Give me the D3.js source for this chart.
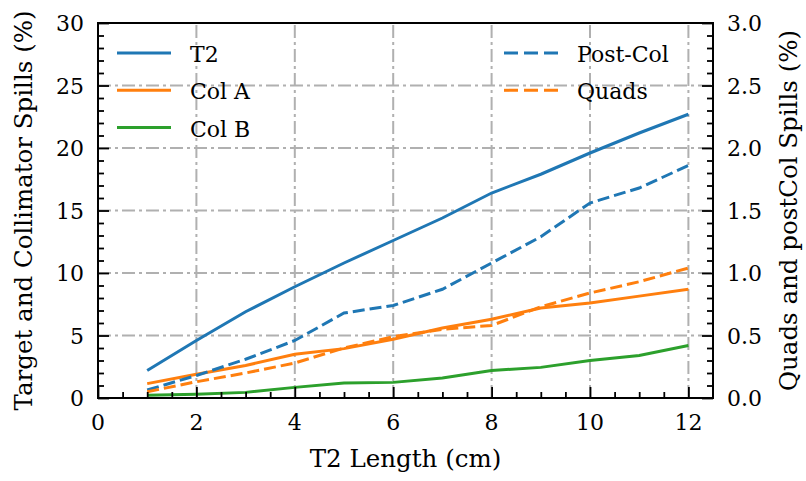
<!DOCTYPE html>
<html>
<head>
<meta charset="utf-8">
<script src="https://cdn.jsdelivr.net/npm/d3@7"></script>
<style>
  html, body { margin: 0; padding: 0; background: #fff; }
  svg { display: block; font-family: 'DejaVu Serif', serif; }
</style>
</head>
<body>
<svg id="chart"></svg>
<script>
const lengths = [1, 2, 3, 4, 5, 6, 7, 8, 9, 10, 11, 12];
// left axis (%)
const t2 = [2.2, 4.6, 6.9, 8.9, 10.8, 12.6, 14.4, 16.4, 17.9, 19.6, 21.2, 22.7];
const colA = [1.15, 1.9, 2.6, 3.5, 3.95, 4.7, 5.6, 6.3, 7.2, 7.6, 8.15, 8.7];
const colB = [0.22, 0.3, 0.45, 0.85, 1.2, 1.25, 1.6, 2.2, 2.45, 3.0, 3.4, 4.2];
// right axis (%)
const postCol = [0.064, 0.18, 0.31, 0.46, 0.68, 0.74, 0.87, 1.08, 1.29, 1.56, 1.68, 1.86];
const quads = [0.05, 0.13, 0.2, 0.28, 0.4, 0.49, 0.55, 0.58, 0.73, 0.84, 0.93, 1.04];

const xTicks = [0, 2, 4, 6, 8, 10, 12];
const leftTicks = [0, 5, 10, 15, 20, 25, 30];
const rightTicks = [0, 0.5, 1.0, 1.5, 2.0, 2.5, 3.0];

const width = 806, height = 481;
const m = { left: 98, right: 713, top: 23, bottom: 398 };
const blue = '#1f77b4', orange = '#ff7f0e', green = '#2ca02c';

const svg = d3.select('#chart').attr('width', width).attr('height', height);

const x = d3.scaleLinear().domain([0, 12.5]).range([m.left, m.right]);
const yL = d3.scaleLinear().domain([0, 30]).range([m.bottom, m.top]);
const yR = d3.scaleLinear().domain([0, 3]).range([m.bottom, m.top]);

// grid (dash-dot)
const grid = svg.append('g')
    .attr('stroke', '#b0b0b0')
    .attr('stroke-width', 2)
    .attr('stroke-dasharray', '13,4,3,4');
grid.selectAll('.gx').data(xTicks.filter(d => d > 0))
  .join('line')
    .attr('x1', d => x(d)).attr('x2', d => x(d))
    .attr('y1', m.bottom).attr('y2', m.top);
grid.selectAll('.gy').data(leftTicks.filter(d => d > 0 && d < 30))
  .join('line')
    .attr('y1', d => yL(d)).attr('y2', d => yL(d))
    .attr('x1', m.left).attr('x2', m.right);

// series
const dashed = '12,5';
const series = [
  { vals: t2, y: yL, color: blue, dash: null },
  { vals: colA, y: yL, color: orange, dash: null },
  { vals: colB, y: yL, color: green, dash: null },
  { vals: postCol, y: yR, color: blue, dash: dashed },
  { vals: quads, y: yR, color: orange, dash: dashed },
];
series.forEach(s => {
  const line = d3.line().x((d, i) => x(lengths[i])).y(d => s.y(d));
  svg.append('path')
    .datum(s.vals)
    .attr('d', line)
    .attr('fill', 'none')
    .attr('stroke', s.color)
    .attr('stroke-width', 3)
    .attr('stroke-dasharray', s.dash);
});

// axes, ticks pointing inward
const tickFont = 22;
const labelFont = 24.5;
const major = 11, minor = 6;

const xAxis = svg.append('g').attr('transform', `translate(0,${m.bottom})`)
  .call(d3.axisBottom(x).tickValues(d3.range(0, 12.01, 0.5)).tickSize(-minor).tickFormat(''));
xAxis.selectAll('.tick line').filter(d => d % 2 === 0).attr('y2', -major);
svg.append('g')
  .selectAll('text').data(xTicks).join('text')
    .attr('x', d => x(d)).attr('y', m.bottom + 32)
    .attr('text-anchor', 'middle').attr('font-size', tickFont)
    .text(d => d);

const yAxisL = svg.append('g').attr('transform', `translate(${m.left},0)`)
  .call(d3.axisLeft(yL).tickValues(d3.range(0, 30.01, 1)).tickSize(-minor).tickFormat(''));
yAxisL.selectAll('.tick line').filter(d => d % 5 === 0).attr('x2', major);
svg.append('g')
  .selectAll('text').data(leftTicks).join('text')
    .attr('x', m.left - 14).attr('y', d => yL(d) + 8)
    .attr('text-anchor', 'end').attr('font-size', tickFont)
    .text(d => d);

const yAxisR = svg.append('g').attr('transform', `translate(${m.right},0)`)
  .call(d3.axisRight(yR).tickValues(d3.range(0, 30.01, 1).map(d => d / 10)).tickSize(-minor).tickFormat(''));
yAxisR.selectAll('.tick line').filter((d, i) => i % 5 === 0).attr('x2', -major);
svg.append('g')
  .selectAll('text').data(rightTicks).join('text')
    .attr('x', m.right + 14).attr('y', d => yR(d) + 8)
    .attr('text-anchor', 'start').attr('font-size', tickFont)
    .text(d => d.toFixed(1));

svg.selectAll('.domain').remove();
svg.selectAll('.tick line').attr('stroke', '#000').attr('stroke-width', 1.8);

// frame
svg.append('rect')
  .attr('x', m.left).attr('y', m.top)
  .attr('width', m.right - m.left).attr('height', m.bottom - m.top)
  .attr('fill', 'none').attr('stroke', '#000').attr('stroke-width', 2);

// axis labels
svg.append('text')
  .attr('x', (m.left + m.right) / 2).attr('y', 467)
  .attr('text-anchor', 'middle').attr('font-size', labelFont)
  .text('T2 Length (cm)');
svg.append('text')
  .attr('transform', `translate(32,${(m.top + m.bottom) / 2}) rotate(-90)`)
  .attr('text-anchor', 'middle').attr('font-size', labelFont)
  .text('Target and Collimator Spills (%)');
svg.append('text')
  .attr('transform', `translate(797,${(m.top + m.bottom) / 2}) rotate(-90)`)
  .attr('text-anchor', 'middle').attr('font-size', labelFont)
  .text('Quads and postCol Spills (%)');

// legends
const legendLeft = [
  { name: 'T2', color: blue, dash: null },
  { name: 'Col A', color: orange, dash: null },
  { name: 'Col B', color: green, dash: null },
];
const legendRight = [
  { name: 'Post-Col', color: blue, dash: '14,6' },
  { name: 'Quads', color: orange, dash: '14,6' },
];
const drawLegend = (items, x0) => {
  const g = svg.append('g');
  items.forEach((it, i) => {
    const yy = 53 + i * 37.3;
    g.append('line')
      .attr('x1', x0).attr('x2', x0 + 54)
      .attr('y1', yy).attr('y2', yy)
      .attr('stroke', it.color).attr('stroke-width', 3)
      .attr('stroke-dasharray', it.dash);
    g.append('text')
      .attr('x', x0 + 73).attr('y', yy + 9)
      .attr('font-size', tickFont)
      .text(it.name);
  });
};
drawLegend(legendLeft, 117);
drawLegend(legendRight, 504);
</script>
</body>
</html>
